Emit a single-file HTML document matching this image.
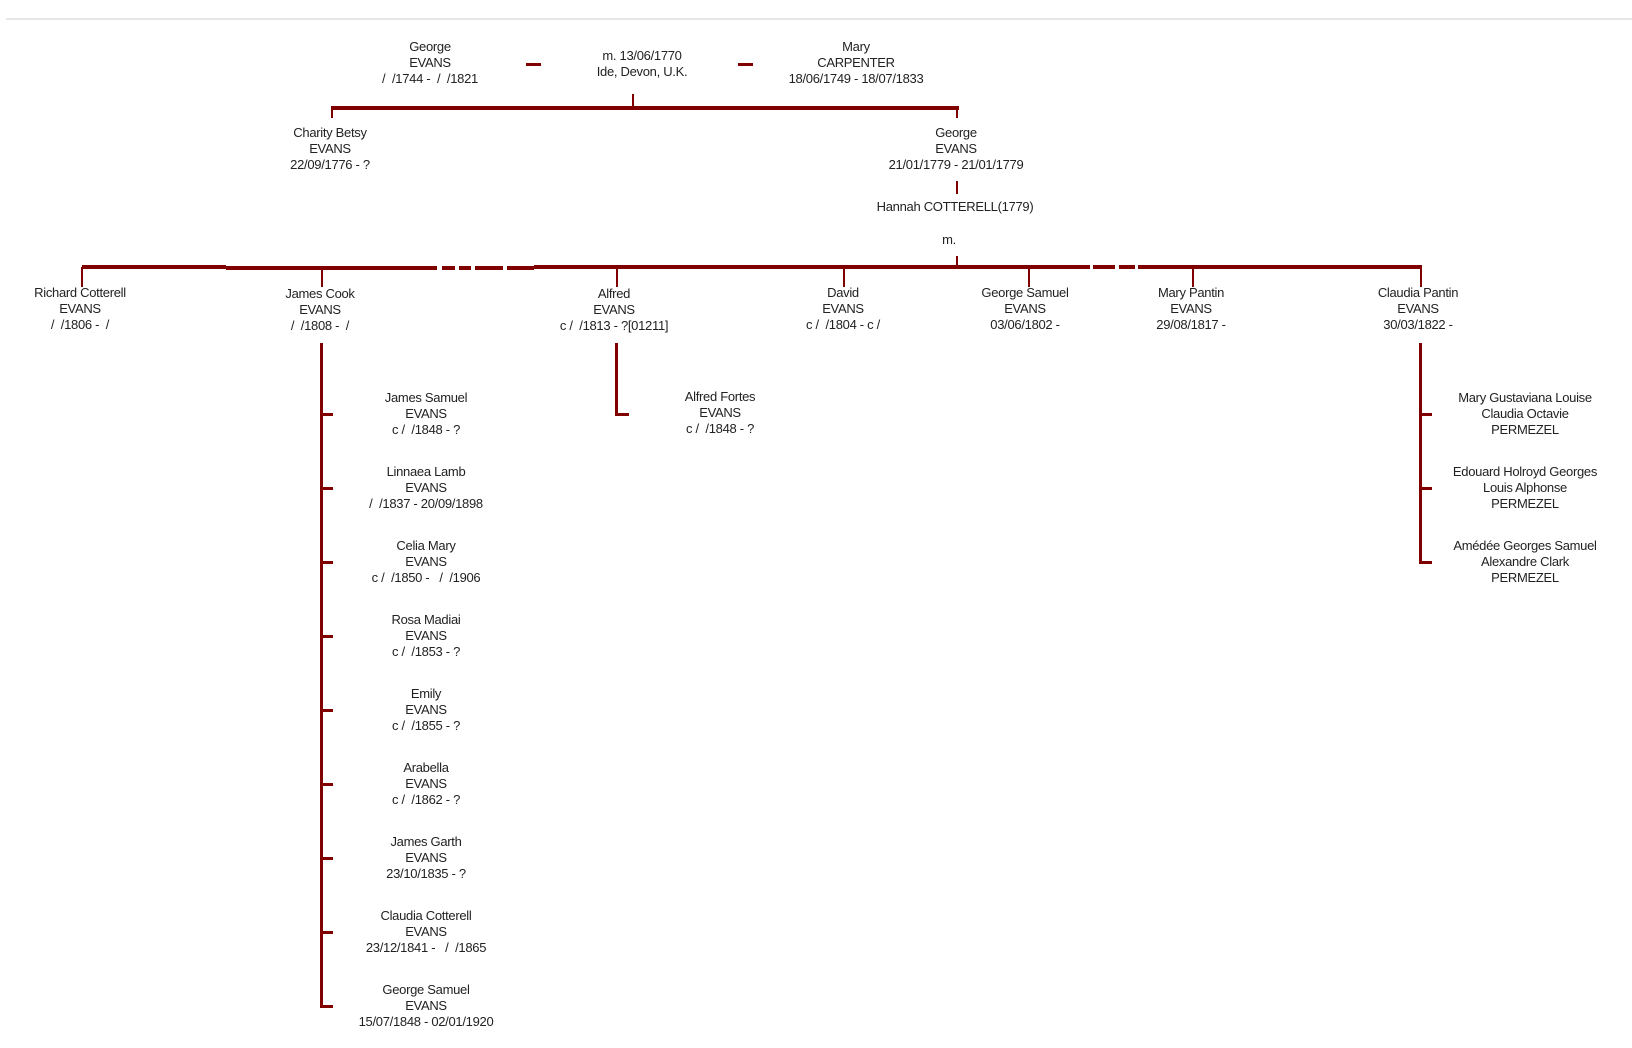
<!DOCTYPE html>
<html><head><meta charset="utf-8"><style>
body{margin:0;width:1632px;height:1048px;background:#fff;position:relative;overflow:hidden;font-family:"Liberation Sans",Arial,sans-serif;}
.t{position:absolute;transform:translate(-50%,-50%);white-space:nowrap;text-align:center;font-size:13px;line-height:16px;color:#222;letter-spacing:-0.3px}
.l{position:absolute;background:#800000}
</style></head><body>
<div style="position:absolute;left:6px;top:18px;width:1626px;height:2px;background:#e6e6e6"></div>

<div class="t" style="left:430px;top:63px">George<br>EVANS<br>/&nbsp; /1744 -&nbsp; /&nbsp; /1821</div>
<div class="l" style="left:526px;top:63px;width:15px;height:3px"></div>
<div class="t" style="left:642px;top:64px">m. 13/06/1770<br>Ide, Devon, U.K.</div>
<div class="l" style="left:738px;top:63px;width:15px;height:3px"></div>
<div class="t" style="left:856px;top:63px">Mary<br>CARPENTER<br>18/06/1749 - 18/07/1833</div>

<div class="l" style="left:632px;top:94px;width:2px;height:12px"></div>
<div class="l" style="left:331px;top:106px;width:628px;height:4px"></div>
<div class="l" style="left:331px;top:106px;width:2px;height:12px"></div>
<div class="l" style="left:956px;top:106px;width:2px;height:12px"></div>

<div class="t" style="left:330px;top:149px">Charity Betsy<br>EVANS<br>22/09/1776 - ?</div>
<div class="t" style="left:956px;top:149px">George<br>EVANS<br>21/01/1779 - 21/01/1779</div>
<div class="l" style="left:956px;top:181px;width:2px;height:13px"></div>
<div class="t" style="left:955px;top:207px">Hannah COTTERELL(1779)</div>
<div class="t" style="left:949px;top:240px">m.</div>
<div class="l" style="left:956px;top:256px;width:2px;height:11px"></div>

<div class="l" style="left:82px;top:265px;width:144px;height:4px"></div>
<div class="l" style="left:226px;top:266px;width:211px;height:4px"></div>
<div class="l" style="left:442px;top:266px;width:13px;height:4px"></div>
<div class="l" style="left:459px;top:266px;width:12px;height:4px"></div>
<div class="l" style="left:475px;top:266px;width:28px;height:4px"></div>
<div class="l" style="left:507px;top:266px;width:27px;height:4px"></div>
<div class="l" style="left:534px;top:265px;width:556px;height:4px"></div>
<div class="l" style="left:1093px;top:265px;width:22px;height:4px"></div>
<div class="l" style="left:1119px;top:265px;width:16px;height:4px"></div>
<div class="l" style="left:1138px;top:265px;width:284px;height:4px"></div>

<div class="l" style="left:81px;top:267px;width:2px;height:20px"></div>
<div class="l" style="left:321px;top:268px;width:2px;height:19px"></div>
<div class="l" style="left:616px;top:267px;width:2px;height:20px"></div>
<div class="l" style="left:843px;top:267px;width:2px;height:20px"></div>
<div class="l" style="left:1028px;top:267px;width:2px;height:20px"></div>
<div class="l" style="left:1192px;top:267px;width:2px;height:20px"></div>
<div class="l" style="left:1420px;top:267px;width:2px;height:20px"></div>

<div class="t" style="left:80px;top:309px">Richard Cotterell<br>EVANS<br>/&nbsp; /1806 -&nbsp; /</div>
<div class="t" style="left:320px;top:310px">James Cook<br>EVANS<br>/&nbsp; /1808 -&nbsp; /</div>
<div class="t" style="left:614px;top:310px">Alfred<br>EVANS<br>c /&nbsp; /1813 - ?[01211]</div>
<div class="t" style="left:843px;top:309px">David<br>EVANS<br>c /&nbsp; /1804 - c /</div>
<div class="t" style="left:1025px;top:309px">George Samuel<br>EVANS<br>03/06/1802 -</div>
<div class="t" style="left:1191px;top:309px">Mary Pantin<br>EVANS<br>29/08/1817 -</div>
<div class="t" style="left:1418px;top:309px">Claudia Pantin<br>EVANS<br>30/03/1822 -</div>

<div class="l" style="left:320px;top:343px;width:3px;height:665px"></div>
<div class="l" style="left:320px;top:413px;width:13px;height:3px"></div>
<div class="l" style="left:320px;top:487px;width:13px;height:3px"></div>
<div class="l" style="left:320px;top:561px;width:13px;height:3px"></div>
<div class="l" style="left:320px;top:635px;width:13px;height:3px"></div>
<div class="l" style="left:320px;top:709px;width:13px;height:3px"></div>
<div class="l" style="left:320px;top:783px;width:13px;height:3px"></div>
<div class="l" style="left:320px;top:857px;width:13px;height:3px"></div>
<div class="l" style="left:320px;top:931px;width:13px;height:3px"></div>
<div class="l" style="left:320px;top:1005px;width:13px;height:3px"></div>
<div class="t" style="left:426px;top:414px">James Samuel<br>EVANS<br>c /&nbsp; /1848 - ?</div>
<div class="t" style="left:426px;top:488px">Linnaea Lamb<br>EVANS<br>/&nbsp; /1837 - 20/09/1898</div>
<div class="t" style="left:426px;top:562px">Celia Mary<br>EVANS<br>c /&nbsp; /1850 -&nbsp;&nbsp; /&nbsp; /1906</div>
<div class="t" style="left:426px;top:636px">Rosa Madiai<br>EVANS<br>c /&nbsp; /1853 - ?</div>
<div class="t" style="left:426px;top:710px">Emily<br>EVANS<br>c /&nbsp; /1855 - ?</div>
<div class="t" style="left:426px;top:784px">Arabella<br>EVANS<br>c /&nbsp; /1862 - ?</div>
<div class="t" style="left:426px;top:858px">James Garth<br>EVANS<br>23/10/1835 - ?</div>
<div class="t" style="left:426px;top:932px">Claudia Cotterell<br>EVANS<br>23/12/1841 -&nbsp;&nbsp; /&nbsp; /1865</div>
<div class="t" style="left:426px;top:1006px">George Samuel<br>EVANS<br>15/07/1848 - 02/01/1920</div>

<div class="l" style="left:615px;top:343px;width:3px;height:73px"></div>
<div class="l" style="left:615px;top:413px;width:14px;height:3px"></div>
<div class="t" style="left:720px;top:413px">Alfred Fortes<br>EVANS<br>c /&nbsp; /1848 - ?</div>

<div class="l" style="left:1419px;top:343px;width:3px;height:221px"></div>
<div class="l" style="left:1419px;top:413px;width:13px;height:3px"></div>
<div class="l" style="left:1419px;top:487px;width:13px;height:3px"></div>
<div class="l" style="left:1419px;top:561px;width:13px;height:3px"></div>
<div class="t" style="left:1525px;top:414px">Mary Gustaviana Louise<br>Claudia Octavie<br>PERMEZEL</div>
<div class="t" style="left:1525px;top:488px">Edouard Holroyd Georges<br>Louis Alphonse<br>PERMEZEL</div>
<div class="t" style="left:1525px;top:562px">Amédée Georges Samuel<br>Alexandre Clark<br>PERMEZEL</div>
</body></html>
